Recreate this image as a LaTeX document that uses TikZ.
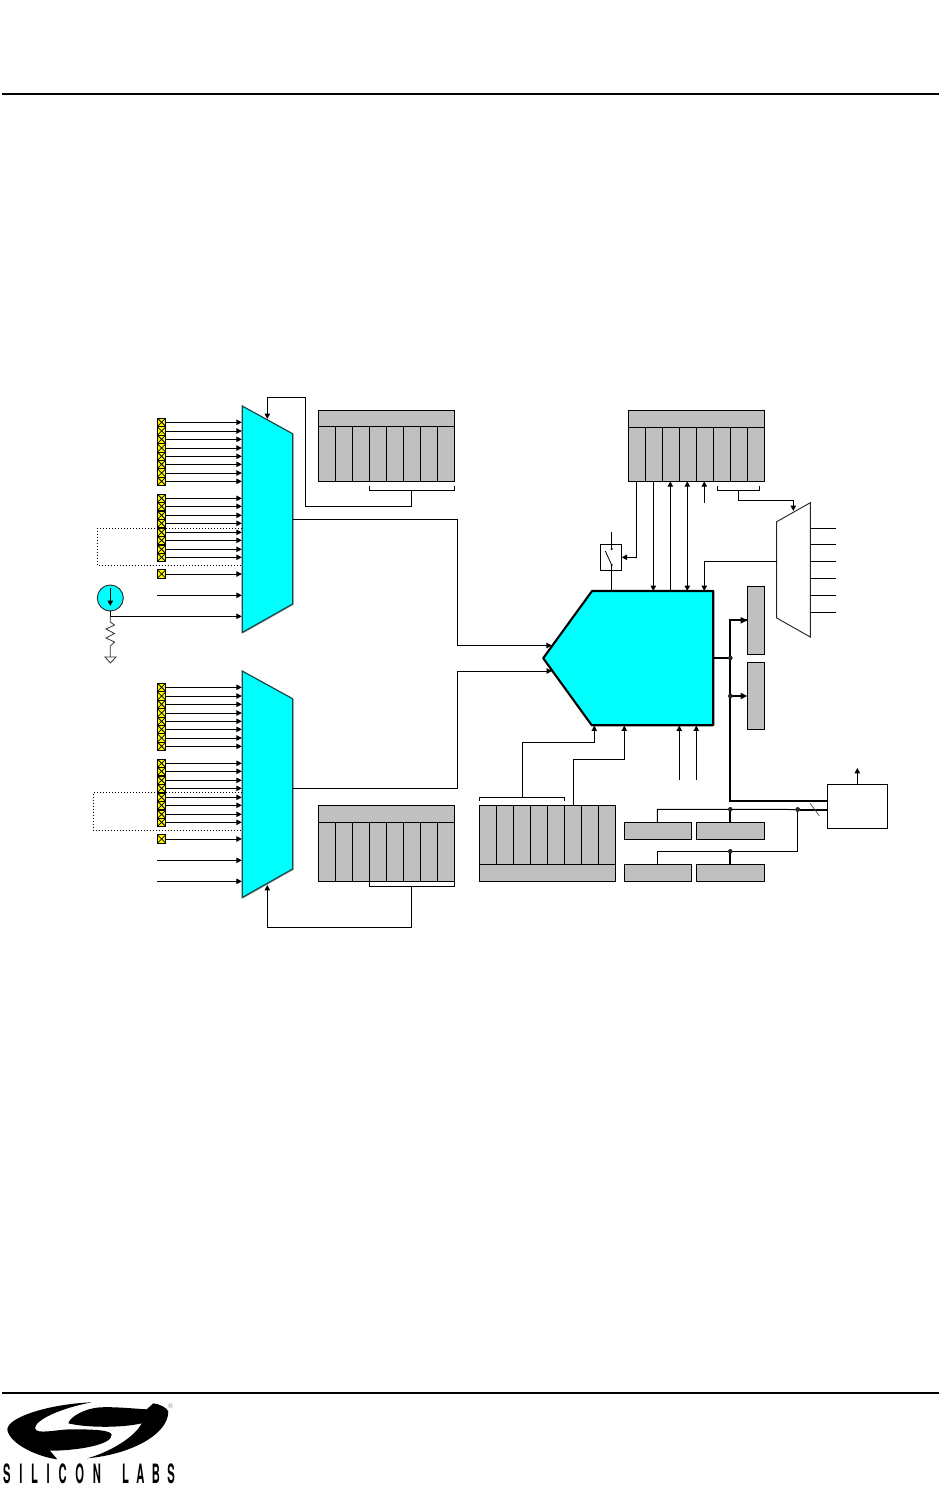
\documentclass[tikz,border=0pt]{standalone}
\usepackage{fontspec}
\setmainfont{TeX Gyre Heros}
\usetikzlibrary{arrows.meta}
\definecolor{regGray}{RGB}{192,192,192}
\definecolor{padYellow}{RGB}{255,248,0}
\definecolor{pureCyan}{RGB}{0,255,255}
\definecolor{muxEdge}{RGB}{20,70,75}
\newcommand\blk[6]{%
  \pgfmathsetmacro\bkw{(#5-#3)*0.75}\pgfmathsetmacro\bkh{(#6-#4)*0.75}%
  \node[#1,minimum width=\bkw pt,minimum height=\bkh pt] (#2) at ({(#3+#5)/2},{(#4+#6)/2}) {};}
\tikzset{
  ln/.style={line width=.75pt,draw=black},
  hv/.style={line width=1.5pt,draw=black},
  arr/.style={ln,-{Triangle[length=4pt,width=4pt]}},
  harr/.style={hv,-{Triangle[length=5pt,width=4.5pt]}},
  biarr/.style={ln,{Triangle[length=4pt,width=4pt]}-{Triangle[length=4pt,width=4pt]}},
  gbox/.style={rectangle,draw=black,line width=.75pt,fill=regGray,inner sep=0pt,outer sep=0pt},
  wbox/.style={rectangle,draw=black,line width=.75pt,fill=white,inner sep=0pt,outer sep=0pt},
  padbox/.style={rectangle,draw=black,line width=.75pt,fill=padYellow,inner sep=0pt,outer sep=0pt,
    minimum width=6.2pt,minimum height=6.2pt,
    path picture={\draw[line width=.6pt] (path picture bounding box.south west)--(path picture bounding box.north east)
      (path picture bounding box.north west)--(path picture bounding box.south east);}},
  muxbody/.style={fill=pureCyan,draw=muxEdge,line width=.9pt,line join=miter},
  shadowgray/.style={fill=black!30,draw=none},
  dots/.style={line width=.75pt,dash pattern=on .75pt off 1.5pt},
  jdot/.style={circle,fill=black!85,inner sep=0pt,outer sep=0pt,minimum size=3pt},
  sdot/.style={circle,fill=black,inner sep=0pt,outer sep=0pt,minimum size=1.8pt},
  logofont/.style={inner sep=0pt,anchor=base},
}
\begin{document}
\begin{tikzpicture}[x=.75pt,y=-.75pt]
\path[use as bounding box,fill=white] (0,0) rectangle (939,1486);
% page rules
\coordinate (hl) at (2,94); \coordinate (hr) at (939,94);
\coordinate (fl) at (2,1393); \coordinate (fr) at (939,1393);
\draw[black,line width=.9pt] (hl)--(hr);
\draw[black,line width=.9pt] (fl)--(fr);

% ---- dotted loops
\draw[dots] (242,528.3)--(97.3,528.3)--(97.3,565.3)--(242,565.3);
\draw[dots] (242,792.3)--(93.3,792.3)--(93.3,830.3)--(242,830.3);

% ---- multiplexers
\foreach \m/\dy in {1/0,2/265}{
  \coordinate (m\m a) at (242.2,{406+\dy});
  \coordinate (m\m b) at (292.6,{433.7+\dy});
  \coordinate (m\m c) at (292.6,{604+\dy});
  \coordinate (m\m d) at (242.2,{632.5+\dy});
  \path[shadowgray] ([xshift=.9pt,yshift=-.6pt]m\m a)--([xshift=.9pt,yshift=-.6pt]m\m b)--([xshift=.9pt,yshift=-.6pt]m\m c)--([xshift=.9pt,yshift=-.6pt]m\m d)--cycle;
  \draw[muxbody] (m\m a)--(m\m b)--(m\m c)--(m\m d)--cycle;
  \coordinate (m\m w) at (241.8,{519+\dy});
  \foreach \i/\y in {1/422.3,2/431,3/439.3,4/448,5/456.3,6/464.3,7/473,8/481.3,
                     9/498.3,10/506.3,11/515.3,12/523.3,13/532.3,14/540.3,15/549.3,16/557.3,17/574}{
    \node[padbox] (pad\m-\i) at (161.6,{\y+\dy}) {};
    \draw[arr] (pad\m-\i.east) -- (pad\m-\i.east -| m\m w);
  }
}
% extra analog inputs
\coordinate (ai1) at (157,595.3);
\draw[arr] (ai1) -- (ai1 -| m1w);
\coordinate (ai2) at (157,860.3);
\draw[arr] (ai2) -- (ai2 -| m2w);
\coordinate (ai3) at (157,881.3);
\draw[arr] (ai3) -- (ai3 -| m2w);

% ---- current source, resistor, ground
\node[circle,draw=black!80,fill=pureCyan,line width=.75pt,minimum size=19.5pt,inner sep=0pt,outer sep=0pt] (src) at (110.3,598) {};
\coordinate (srcTop) at (110.3,588);
\coordinate (srcBot) at (110.3,606);
\draw[arr] (srcTop) -- (srcBot);
\coordinate (tap) at (110.3,616.3);
\draw[ln] (src.south) -- (tap);
\draw[arr] (tap) -- (tap -| m1w);
\draw[line width=.6pt,black!80] (tap) -- (110.3,622) -- (114.5,625) -- (106,629) -- (114.5,633.5) -- (106,638) -- (114.5,642) -- (110.3,646) -- (110.3,657);
\draw[line width=.6pt,black!80,fill=white] (105,657) -- (116,657) -- (110.4,663) -- cycle;

% ---- central block
\coordinate (pTip) at (543.2,658.2);
\coordinate (pTL) at (592,591);
\coordinate (pTR) at (713.2,591);
\coordinate (pBR) at (713.2,725.2);
\coordinate (pBL) at (591.7,725.2);
\draw[line width=1.6pt,black,fill=pureCyan,line join=round] (pTip)--(pTL)--(pTR)--(pBR)--(pBL)--cycle;

% mux outputs into central block
\coordinate (in1) at (551.8,645.5);
\coordinate (in2) at (552,671);
\draw[arr] (m1c |- 0,519.5) -- (457,519.5) -- (457,645.5) -- (in1);
\draw[arr] (m2c |- 0,788) -- (457,788) -- (457,671) -- (in2);

% ---- register left top
\blk{gbox}{r1}{318.3}{410.7}{454.5}{481.3}
\draw[ln] (r1.west |- 0,426) -- (r1.east |- 0,426);
\foreach \x in {335.7,352.3,369.3,386.7,403.7,420.3,437.7}{\draw[ln] (\x,426)--(\x,481.3);}
\coordinate (b1l) at (369.3,490); \coordinate (b1r) at (454.5,490); \coordinate (b1s) at (411.3,490);
\draw[ln] (369.3,485.5)--(b1l)--(b1r)--(454.5,485.5);
\draw[arr] (b1s) -- (411.3,506.3) -- (305.7,506.3) -- (305.7,397.3) -- (267.3,397.3) -- (267.3,419);

% ---- register left bottom
\blk{gbox}{r2}{318.3}{805.7}{454.5}{881.3}
\draw[ln] (r2.west |- 0,822.3) -- (r2.east |- 0,822.3);
\foreach \x in {335.7,352.3,369.3,386.7,403.7,420.3,437.7}{\draw[ln] (\x,822.3)--(\x,881.3);}
\coordinate (b2l) at (369.3,886); \coordinate (b2r) at (454.5,886); \coordinate (b2s) at (411.3,886);
\draw[ln] (369.3,882)--(b2l)--(b2r)--(454.5,882);
\draw[arr] (b2s) -- (411.3,927) -- (267.3,927) -- (267.3,885);

% ---- register top right
\blk{gbox}{rt}{628.3}{410.3}{764.5}{481.3}
\draw[ln] (rt.west |- 0,427.3) -- (rt.east |- 0,427.3);
\foreach \x in {645.3,662.3,679.3,696.3,713.3,730.3,747.3}{\draw[ln] (\x,427.3)--(\x,481.3);}
% output mux (white)
\coordinate (wa) at (776.7,521.7);
\coordinate (wb) at (810.3,502.7);
\coordinate (wc) at (810.3,637);
\coordinate (wd) at (776.7,618);
\draw[line width=.7pt,black!85,fill=white] (wa)--(wb)--(wc)--(wd)--cycle;
\foreach \y in {528.3,544.3,561.3,578.3,595.3,612.3}{\draw[ln] (810.3,\y)--(836,\y);}
\coordinate (pt1) at (653.3,591);
\coordinate (pt2) at (670.3,591);
\coordinate (pt3) at (687.3,591);
\coordinate (pt4) at (704.3,591);
\draw[arr] (pt1 |- rt.south) -- (pt1);
\draw[arr] (pt2) -- (pt2 |- rt.south);
\draw[biarr] (pt3 |- rt.south) -- (pt3);
\coordinate (cfree) at (704.3,502.7);
\draw[arr] (cfree) -- (cfree |- rt.south);
\draw[arr] (wa |- 0,561.3) -- (704.3,561.3) -- (pt4);
\draw[ln] (717.3,486)--(717.3,490.3)--(759.3,490.3)--(759.3,486);
\draw[arr] (738.3,490.3) -- (738.3,500.3) -- (793.3,500.3) -- (793.3,511);

% ---- switch
\blk{wbox}{sw}{600.3}{544.3}{621.7}{570.3}
\coordinate (swin) at (611.7,532);
\node[sdot] (swa) at (611.7,549) {};
\node[sdot] (swb) at (611.7,565) {};
\coordinate (swarm) at (605.3,551);
\draw[ln] (swin) -- (swa);
\draw[line width=.6pt] (swarm) -- (swb);
\draw[ln] (swb) -- (swb |- pTL);
\draw[arr] (636.3,481.3) -- (636.3,557.3) -- (sw.east |- 0,557.3);

% ---- gray side blocks
\blk{gbox}{ba}{747.3}{586.3}{764.7}{654.3}
\blk{gbox}{bb}{747.3}{662.3}{764.7}{729.3}

% ---- output box and bus
\blk{wbox}{out}{827.3}{784.3}{887.7}{828.3}
\coordinate (outUp) at (857.3,768);
\draw[arr] (out.north -| outUp) -- (outUp);
\node[jdot] (j1) at (730.3,658) {};
\node[jdot] (j2) at (730.3,696) {};
\draw[hv] (pTR |- j1) -- (j1);
\draw[hv,line join=miter] (747,620.3) -- (730.3,620.3) -- (730.3,801) -- (out.west |- 0,801);
\draw[harr] (730.3,620.3) -- (ba.west |- 0,620.3);
\draw[harr] (j2) -- (bb.west |- j2);

% ---- bottom right gray boxes
\blk{gbox}{c1}{624.3}{822.3}{691.7}{839.7}
\blk{gbox}{c2}{696.3}{822.3}{764.7}{839.7}
\blk{gbox}{c3}{624.3}{864.3}{691.7}{881.7}
\blk{gbox}{c4}{696.3}{864.3}{764.7}{881.7}
\node[jdot] (j3) at (730.3,809.3) {};
\node[jdot] (j4) at (730.3,851.3) {};
\node[jdot,minimum size=3.4pt] (j5) at (797.7,809.5) {};
\draw[ln] (657.3,822.3) -- (657.3,809.3) -- (j5);
\draw[ln] (657.3,864.3) -- (657.3,851.3) -- (797.7,851.3) -- (j5);
\draw[hv] (j3) -- (j3 |- c2.north);
\draw[hv] (j4) -- (j4 |- c4.north);
\draw[hv] (j5) -- (out.west |- j5);
\foreach \j in {j1,j2,j3,j4,j5}{\fill[black!85] (\j) circle (1.7pt);}
\coordinate (sl1) at (810,803.3); \coordinate (sl2) at (819.3,815.7);
\draw[line width=.5pt,black!70] (sl1) -- (sl2);

% ---- register bottom middle
\blk{gbox}{rm}{479.3}{805.3}{615.7}{881.7}
\draw[ln] (rm.west |- 0,864.3) -- (rm.east |- 0,864.3);
\foreach \x in {496.3,513.3,530.3,547.3,564.3,581.3,598.3}{\draw[ln] (\x,805.3)--(\x,864.3);}
\draw[ln] (479.3,801)--(479.3,797.3)--(564.3,797.3)--(564.3,801);
\coordinate (pb1) at (594.3,725.6);
\coordinate (pb2) at (624.3,725.6);
\coordinate (pb3) at (679.3,725.6);
\coordinate (pb4) at (696.3,725.6);
\draw[arr] (522.3,797.3) -- (522.3,742.3) -- (594.3,742.3) -- (pb1);
\draw[arr] (573.3,805.3) -- (573.3,759.3) -- (624.3,759.3) -- (pb2);
\coordinate (f3) at (679.3,780);
\coordinate (f4) at (696.3,780);
\draw[arr] (f3) -- (pb3);
\draw[arr] (f4) -- (pb4);

% ---- logo
\fill[black] (91.7,1402.3) .. controls (50,1404) and (8.3,1416.7) .. (7.3,1429.3)
  .. controls (8.3,1441.7) and (33.3,1456) .. (57.3,1459.3)
  -- (50,1450.7)
  .. controls (76.7,1450.7) and (111.7,1445) .. (111.7,1435)
  .. controls (111.7,1430) and (93.3,1429.3) .. (71.7,1429.3)
  .. controls (56.7,1429.3) and (36.7,1435) .. (35,1428.3)
  .. controls (35,1420) and (60,1408.3) .. (91.7,1402.3) -- cycle;
\fill[black] (87.3,1458.3) .. controls (133.3,1454) and (168.3,1433.3) .. (168.3,1411.7)
  .. controls (167.7,1408.3) and (160,1404) .. (153.3,1403.3)
  -- (146.7,1409.3)
  .. controls (130,1408.3) and (115,1406.7) .. (100,1407.3)
  .. controls (85,1408.3) and (70,1416.7) .. (68.3,1423.3)
  .. controls (85,1427.5) and (120,1428.3) .. (141.7,1423.3)
  .. controls (135,1437) and (110,1452) .. (87.3,1458.3) -- cycle;
\node[text=black!45,font=\fontsize{5}{5}\selectfont,inner sep=0pt] (reg) at (170.5,1406.5) {®};
\node[logofont] (logoA) at (52,1483.5) {\scalebox{.42}[1]{\fontsize{20}{20}\selectfont\bfseries\addfontfeature{LetterSpace=78}SILICON}};
\node[logofont] (logoB) at (148.5,1483.5) {\scalebox{.42}[1]{\fontsize{20}{20}\selectfont\bfseries\addfontfeature{LetterSpace=66}LABS}};
\end{tikzpicture}
\end{document}
